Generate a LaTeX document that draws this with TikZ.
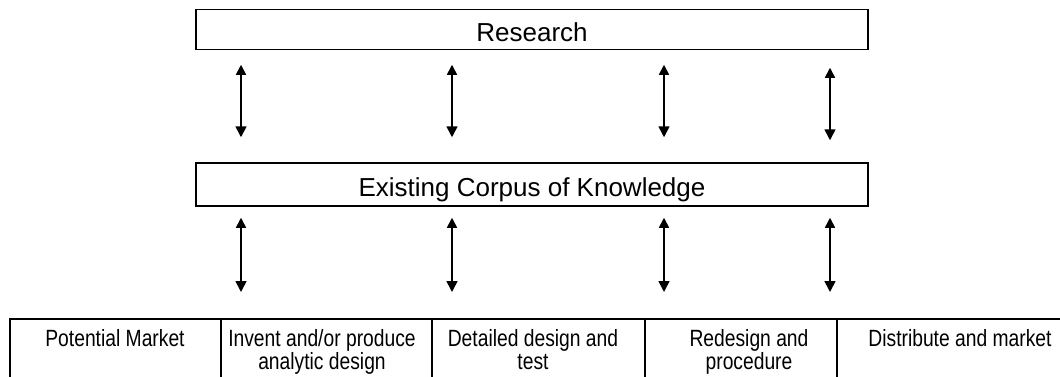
\documentclass[tikz,border=0pt]{standalone}
\usepackage{fontspec}
\setmainfont{Liberation Sans}
\newfontfamily\narrowsf{Liberation Sans}[FakeStretch=0.82]
\usetikzlibrary{arrows.meta}

\tikzset{
  box/.style={draw, line width=1.5pt, minimum width=672pt, inner sep=0pt, text height=23pt, text depth=0pt, font=\fontsize{26pt}{31pt}\selectfont},
  cell/.style={draw, line width=1.5pt, anchor=north west, minimum height=100pt},
  celltext/.style={anchor=north, align=center, inner sep=11pt, font=\narrowsf\fontsize{23.5pt}{23pt}\selectfont},
  link/.style={{Triangle[length=10pt,width=10pt]}-{Triangle[length=11pt,width=11pt]}, line width=1.6pt},
}

\begin{document}
\begin{tikzpicture}[x=1pt,y=-1pt]
\useasboundingbox (0,0) rectangle (1060,376);
\clip (0,0) rectangle (1060,376);

\node[box,minimum height=40pt] (R) at (532,29.5){Research};
\node[box,minimum height=43pt] (K) at (532,184.5){Existing Corpus of Knowledge};

\node[cell,minimum width=211pt] (PM) at (9,318){};
\node[cell,minimum width=211pt] (IA) at (220,318){};
\node[cell,minimum width=213pt] (DT) at (431,318){};
\node[cell,minimum width=192pt] (RP) at (644,318){};
\node[cell,minimum width=250pt] (DM) at (836,318){};

\node[celltext] (PMt) at (115,318){Potential Market};
\node[celltext] (IAt) at (322,318){Invent and/or produce\\analytic design};
\node[celltext] (DTt) at (533,318){Detailed design and\\test};
\node[celltext] (RPt) at (749,318){Redesign and\\procedure};
\node[celltext] (DMt) at (960,318){Distribute and market};

\coordinate (a1) at (241,0);
\coordinate (a2) at (452,0);
\coordinate (a3) at (664,0);
\coordinate (a4) at (830,0);

\draw [link, shorten <=14.5pt, shorten >=25pt] (R.south -| a1) -- (K.north -| a1);
\draw [link, shorten <=14.5pt, shorten >=25pt] (R.south -| a2) -- (K.north -| a2);
\draw [link, shorten <=14.5pt, shorten >=25pt] (R.south -| a3) -- (K.north -| a3);
\draw [link, shorten <=17.5pt, shorten >=22pt] (R.south -| a4) -- (K.north -| a4);

\draw [link, shorten <=11pt, shorten >=26pt] (K.south -| a1) -- (IA.north -| a1);
\draw [link, shorten <=11pt, shorten >=26pt] (K.south -| a2) -- (DT.north -| a2);
\draw [link, shorten <=11pt, shorten >=26pt] (K.south -| a3) -- (RP.north -| a3);
\draw [link, shorten <=11pt, shorten >=26pt] (K.south -| a4) -- (DM.north -| a4);
\end{tikzpicture}
\end{document}
